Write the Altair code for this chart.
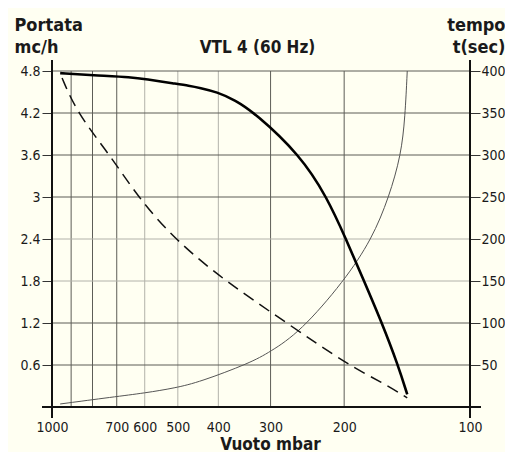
import altair as alt
import pandas as pd

# ---- data ----
portata_mbar = [956, 800, 640, 599, 508, 470, 443, 403, 365, 327, 255, 220, 198, 179.3, 162.4, 148.7, 141.3]
portata_val = [4.77, 4.74, 4.71, 4.685, 4.62, 4.59, 4.56, 4.50, 4.385, 4.20, 3.60, 3.00, 2.40, 1.80, 1.20, 0.60, 0.18]

dash_mbar = [946, 871, 727, 623, 510, 386, 274, 196, 162, 141.3]
dash_val = [4.70, 4.20, 3.60, 3.00, 2.40, 1.80, 1.20, 0.60, 0.35, 0.13]

tempo_mbar = [956, 715, 599, 508, 443, 336, 301, 255, 200, 171.6, 156.2, 146.2, 143.0, 141.3]
tempo_val = [3.6, 11.9, 16.7, 22.6, 29.8, 52.4, 65.5, 89.3, 150, 200, 250, 300, 345, 400]

x_labels = [1000, 700, 600, 500, 400, 300, 200, 100]
x_grid = [900, 800, 700, 600, 500, 400, 300, 200]
x_grid_tone = ["d", "d", "d", "l", "l", "l", "d", "d"]
y_left_ticks = [0.6, 1.2, 1.8, 2.4, 3, 3.6, 4.2, 4.8]
y_grid_tone = ["d", "d", "l", "l", "d", "d", "d", "d"]
y_right_ticks = [50, 100, 150, 200, 250, 300, 350, 400]
axis_x = [1000, 100]
chart_title = ["VTL 4 (60 Hz)"]

W, H = 418, 336
FONT = "'Liberation Sans Narrow', 'DejaVu Sans Condensed', 'Liberation Sans', sans-serif"
TXT = "#1a1a1a"
DARK = "#5d5d57"
LIGHT = "#b2b2aa"
LBL = 14

xscale = alt.Scale(type="log", domain=[100, 1000], reverse=True, nice=False)
yl = alt.Scale(domain=[0, 4.8], nice=False, zero=False)
yr = alt.Scale(domain=[0, 400], nice=False, zero=False)

df_p = pd.DataFrame({"mbar": portata_mbar, "v": portata_val})
df_d = pd.DataFrame({"mbar": dash_mbar, "v": dash_val})
df_t = pd.DataFrame({"mbar": tempo_mbar, "v": tempo_val})
df_gx = pd.DataFrame({"mbar": x_grid, "c": [DARK if t == "d" else LIGHT for t in x_grid_tone],
                      "y0": 0.0, "y1": 4.8})
df_gy = pd.DataFrame({"v": y_left_ticks, "c": [DARK if t == "d" else LIGHT for t in y_grid_tone]})
df_ax = pd.DataFrame({"mbar": axis_x})
df_bx = pd.DataFrame({"v": [0.0]})
df_title = pd.DataFrame({"t": chart_title})

x_axis = alt.Axis(values=x_labels, format="d", ticks=False, tickSize=0, domain=False, grid=False,
                  labelFont=FONT, labelFontSize=LBL, labelColor=TXT, labelPadding=13,
                  labelOverlap=False, labelFlush=False,
                  title="Vuoto mbar", titleFont=FONT, titleFontSize=17, titleFontWeight="bold",
                  titleColor=TXT, titleAngle=0, titleAlign="center", titleBaseline="top",
                  titleX=218, titleY=29)

left_axis = alt.Axis(values=y_left_ticks, format="~g", orient="left", tickSize=10, tickColor="#333",
                     domain=False, grid=False, labelFont=FONT, labelFontSize=LBL, labelColor=TXT,
                     labelPadding=2, labelOverlap=False,
                     title=["Portata", "mc/h"], titleFont=FONT, titleFontSize=18,
                     titleFontWeight="bold", titleColor=TXT, titleAngle=0, titleAlign="left",
                     titleBaseline="top", titleX=-38, titleY=-55, titleLineHeight=22)

right_axis = alt.Axis(values=y_right_ticks, format="d", orient="right", tickSize=10, tickColor="#333",
                      domain=False, grid=False, labelFont=FONT, labelFontSize=LBL, labelColor=TXT,
                      labelPadding=1, labelOverlap=False,
                      title=["tempo", "t(sec)"], titleFont=FONT, titleFontSize=18,
                      titleFontWeight="bold", titleColor=TXT, titleAngle=0, titleAlign="right",
                      titleBaseline="top", titleX=35, titleY=-55, titleLineHeight=22)

x_enc = alt.X("mbar:Q", scale=xscale, axis=x_axis)

grid_v = alt.Chart(df_gx).mark_rule(strokeWidth=1).encode(
    x=x_enc,
    y=alt.Y("y0:Q", scale=yl, axis=None),
    y2="y1:Q",
    color=alt.Color("c:N", scale=None),
)

grid_h = alt.Chart(df_gy).mark_rule(strokeWidth=1).encode(
    y=alt.Y("v:Q", scale=yl, axis=left_axis),
    x=alt.value(0),
    x2=alt.value(W),
    color=alt.Color("c:N", scale=None),
)

tempo_line = alt.Chart(df_t).mark_line(color="#555555", strokeWidth=1, interpolate="basis").encode(
    x=x_enc,
    y=alt.Y("v:Q", scale=yr, axis=right_axis),
)

dash_line = alt.Chart(df_d).mark_line(color="#111111", strokeWidth=1.5, strokeDash=[12, 7],
                                      interpolate="basis").encode(
    x=x_enc,
    y=alt.Y("v:Q", scale=yl, axis=None),
)

portata_line = alt.Chart(df_p).mark_line(color="#000000", strokeWidth=2.6, interpolate="basis").encode(
    x=x_enc,
    y=alt.Y("v:Q", scale=yl, axis=None),
)

v_axes = alt.Chart(df_ax).mark_rule(color="#111111", strokeWidth=2).encode(
    x=x_enc,
    y=alt.value(-11),
    y2=alt.value(H + 11),
)

h_axis = alt.Chart(df_bx).mark_rule(color="#111111", strokeWidth=2).encode(
    y=alt.Y("v:Q", scale=yl, axis=None),
    x=alt.value(-10),
    x2=alt.value(W + 11),
)

title_txt = alt.Chart(df_title).mark_text(font=FONT, fontSize=17, fontWeight="bold", color=TXT,
                                          align="center", baseline="alphabetic").encode(
    text="t:N",
    x=alt.value(205.5),
    y=alt.value(-18),
)

chart = alt.layer(grid_v, grid_h, tempo_line, dash_line, portata_line, v_axes, h_axis,
                  title_txt).resolve_scale(
    y="independent"
).properties(
    width=W,
    height=H,
    autosize=alt.AutoSizeParams(type="none"),
    padding={"left": 44, "top": 63, "right": 35, "bottom": 45},
    background="#fffff2",
).configure_view(stroke=None)

chart.save("out.html", embed_options={"renderer": "svg", "actions": False})
